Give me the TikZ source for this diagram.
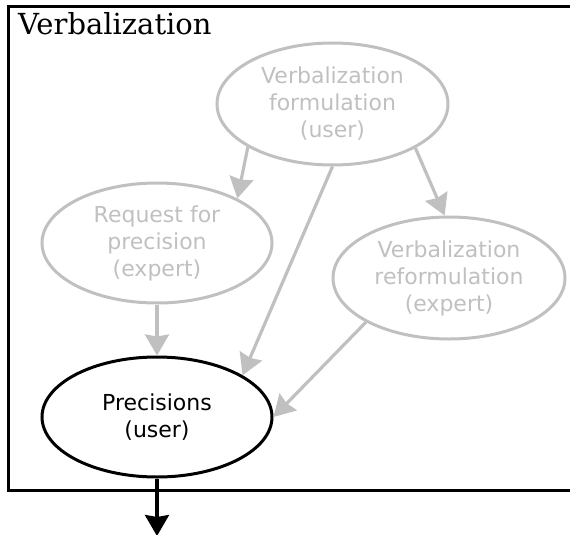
\documentclass[tikz,border=0pt]{standalone}
\usepackage{fontspec}
\setmainfont{DejaVu Sans}
\newfontfamily\titlefont{DejaVu Serif}
\usetikzlibrary{shapes.geometric,arrows.meta}
\definecolor{faded}{HTML}{C0C0C0}
\tikzset{
  bubble/.style={ellipse, draw, line width=3pt, inner sep=0pt,
    minimum width=230pt, minimum height=120pt, align=center,
    font=\fontsize{22}{27}\selectfont},
  ghost/.style={bubble, draw=faded, text=faded},
  active/.style={bubble, draw=black, text=black},
  flow/.style={draw=faded, line width=3.2pt,
    -{Stealth[inset=2pt, length=21pt, width=24pt]}},
  outflow/.style={draw=black, line width=3.2pt,
    -{Stealth[inset=2pt, length=21pt, width=24pt]}},
  frame/.style={draw=black, line width=3pt},
}
\begin{document}
\begin{tikzpicture}[x=1pt, y=-1pt]
  \useasboundingbox (0,0) rectangle (570,535);
  % enclosing group box, open past the right edge
  \begin{scope}
    \clip (0,0) rectangle (570,535);
    \draw[frame] (8,7) rectangle (590,490);
  \end{scope}
  \node[anchor=base west, inner sep=0pt, font=\titlefont\fontsize{29}{34}\selectfont]
    (title) at (18,35) {Verbalization};

  \node[ghost, minimum width=231pt, minimum height=122pt] (vf) at (332.5,104)
    {Verbalization\\formulation\\(user)};
  \node[ghost] (rp) at (157,243) {Request for\\precision\\(expert)};
  \node[ghost, minimum width=232pt, minimum height=122pt] (vr) at (449,278)
    {Verbalization\\reformulation\\(expert)};
  \node[active] (pr) at (157,417) {Precisions\\(user)};
  \coordinate (out) at (157,536);

  \draw[flow] (vf.207.5) -- (rp.29.6);
  \draw[flow] (vf.270) -- (pr.26.3);
  \draw[flow] (vf.332.5) -- (vr.94);
  \draw[flow] (rp.270) -- (pr.90);
  \draw[flow] (vr.208.5) -- (pr.0.5);
  \draw[outflow] (pr.270) -- (out);
\end{tikzpicture}
\end{document}
